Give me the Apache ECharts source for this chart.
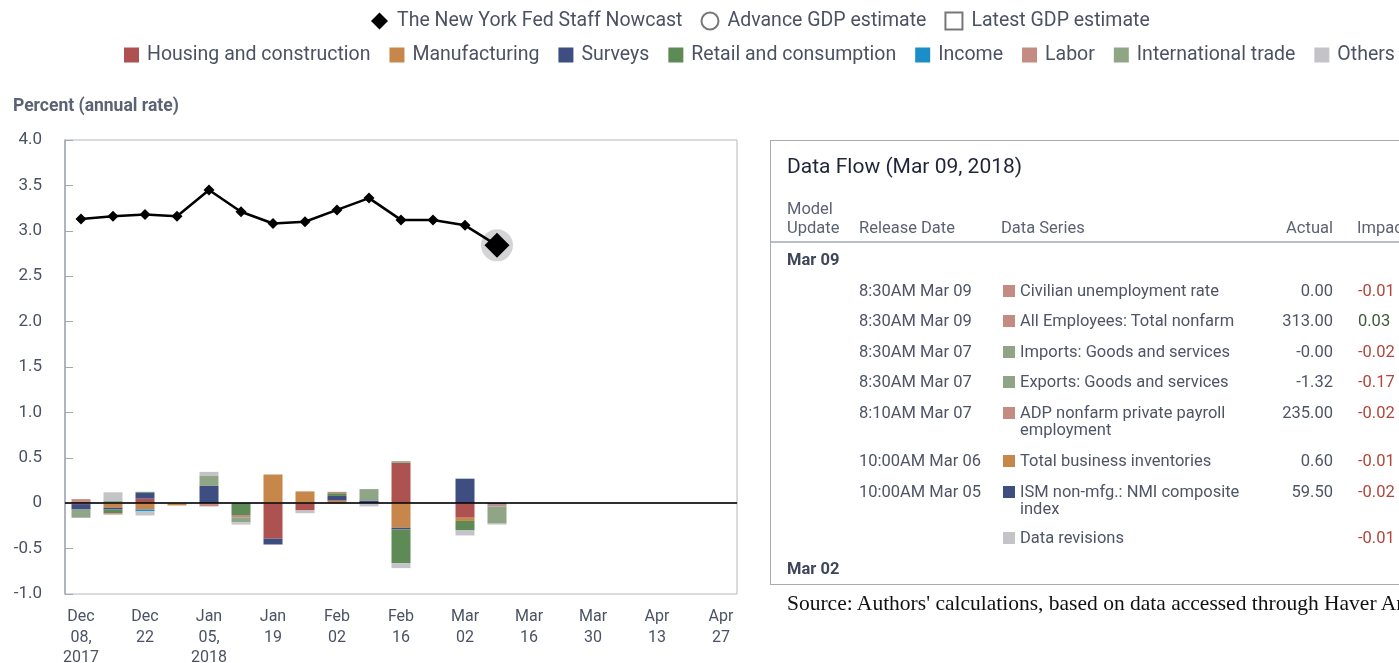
<!DOCTYPE html>
<html>
<head>
<meta charset="utf-8">
<title>Nowcast</title>
<script src="https://cdn.jsdelivr.net/npm/echarts@6/dist/echarts.min.js"></script>
<style>
  html, body { margin: 0; padding: 0; background: #fff; }
  body { width: 1399px; height: 663px; overflow: hidden; position: relative; font-family: Roboto, "Liberation Sans", sans-serif; }
  #chart { position: absolute; left: 0; top: 0; width: 1399px; height: 663px; }
  .tbl { position: absolute; left: 770px; top: 140px; width: 700px; height: 445px; border: 1px solid #a7abb2; box-sizing: border-box; color: #4d5566; font-size: 16.5px; }
  .tbl div { position: absolute; white-space: nowrap; line-height: 17px; }
  .tbl .title { left: 16px; top: 12px; font-size: 21px; line-height: 26px; color: #1d2638; }
  .tbl .hd { color: #5b6373; font-size: 16.5px; line-height: 19px; }
  .tbl .sep { left: 0; top: 100px; width: 100%; height: 0; border-top: 2px solid #b9bdc4; }
  .tbl .grp { left: 16px; font-weight: bold; color: #3e4658; font-size: 16.5px; }
  .tbl .rel { left: 88px; }
  .tbl .ser { left: 249px; }
  .tbl .sw { left: 232px; width: 12px; height: 12px; margin-top: 3px; }
  .tbl .act { left: 470px; width: 92px; text-align: right; }
  .tbl .imp { left: 587px; color: #b0473a; }
  .tbl .imp.pos { color: #3c5a3a; }
  .src { position: absolute; left: 787px; top: 591px; white-space: nowrap; font-family: "Liberation Serif", "DejaVu Serif", serif; font-size: 21.5px; color: #111; }
</style>
</head>
<body>
<div id="chart"></div>

<div class="tbl">
  <div class="title">Data Flow (Mar 09, 2018)</div>
  <div class="hd" style="left:16px; top:58px;">Model<br>Update</div>
  <div class="hd" style="left:88px; top:77px;">Release Date</div>
  <div class="hd" style="left:230px; top:77px;">Data Series</div>
  <div class="hd" style="left:470px; width:92px; text-align:right; top:77px;">Actual</div>
  <div class="hd" style="left:586px; top:77px;">Impact</div>
  <div class="sep"></div>
  <div class="grp" style="top:110px;">Mar 09</div>

  <div class="rel" style="top:141px;">8:30AM Mar 09</div>
  <div class="sw" style="top:141px; background:#c48b82;"></div>
  <div class="ser" style="top:141px;">Civilian unemployment rate</div>
  <div class="act" style="top:141px;">0.00</div>
  <div class="imp" style="top:141px;">-0.01</div>

  <div class="rel" style="top:171px;">8:30AM Mar 09</div>
  <div class="sw" style="top:171px; background:#c48b82;"></div>
  <div class="ser" style="top:171px;">All Employees: Total nonfarm</div>
  <div class="act" style="top:171px;">313.00</div>
  <div class="imp pos" style="top:171px;">0.03</div>

  <div class="rel" style="top:202px;">8:30AM Mar 07</div>
  <div class="sw" style="top:202px; background:#8fa586;"></div>
  <div class="ser" style="top:202px;">Imports: Goods and services</div>
  <div class="act" style="top:202px;">-0.00</div>
  <div class="imp" style="top:202px;">-0.02</div>

  <div class="rel" style="top:232px;">8:30AM Mar 07</div>
  <div class="sw" style="top:232px; background:#8fa586;"></div>
  <div class="ser" style="top:232px;">Exports: Goods and services</div>
  <div class="act" style="top:232px;">-1.32</div>
  <div class="imp" style="top:232px;">-0.17</div>

  <div class="rel" style="top:263px;">8:10AM Mar 07</div>
  <div class="sw" style="top:263px; background:#c48b82;"></div>
  <div class="ser" style="top:263px;">ADP nonfarm private payroll<br>employment</div>
  <div class="act" style="top:263px;">235.00</div>
  <div class="imp" style="top:263px;">-0.02</div>

  <div class="rel" style="top:311px;">10:00AM Mar 06</div>
  <div class="sw" style="top:311px; background:#c8874a;"></div>
  <div class="ser" style="top:311px;">Total business inventories</div>
  <div class="act" style="top:311px;">0.60</div>
  <div class="imp" style="top:311px;">-0.01</div>

  <div class="rel" style="top:342px;">10:00AM Mar 05</div>
  <div class="sw" style="top:342px; background:#3f4e80;"></div>
  <div class="ser" style="top:342px;">ISM non-mfg.: NMI composite<br>index</div>
  <div class="act" style="top:342px;">59.50</div>
  <div class="imp" style="top:342px;">-0.02</div>

  <div class="sw" style="top:388px; background:#c4c4c8;"></div>
  <div class="ser" style="top:388px;">Data revisions</div>
  <div class="imp" style="top:388px;">-0.01</div>

  <div class="grp" style="top:419px;">Mar 02</div>
</div>

<div class="src">Source: Authors' calculations, based on data accessed through Haver Analytics.</div>

<script>
// weekly nowcast dates
var weeks = ['Dec 08, 2017', 'Dec 15', 'Dec 22', 'Dec 29', 'Jan 05, 2018', 'Jan 12', 'Jan 19', 'Jan 26',
             'Feb 02', 'Feb 09', 'Feb 16', 'Feb 23', 'Mar 02', 'Mar 09', 'Mar 16', 'Mar 23', 'Mar 30',
             'Apr 06', 'Apr 13', 'Apr 20', 'Apr 27'];

// nowcast, percent annual rate
var nowcast = [3.13, 3.16, 3.18, 3.16, 3.45, 3.21, 3.08, 3.10, 3.23, 3.36, 3.12, 3.12, 3.06, 2.84];

// contributions (news impact) by category
var housing       = [0.02, 0, 0.05, 0, 0, 0, -0.39, -0.08, 0, 0, 0.445, 0, -0.16, 0];
var manufacturing = [-0.01, -0.05, -0.07, -0.025, 0, 0, 0.316, 0.13, 0.03, 0, -0.27, 0, -0.035, 0];
var surveys       = [-0.06, -0.02, 0.065, 0, 0.19, 0, -0.065, 0, 0.05, 0.03, -0.02, 0, 0.27, -0.015];
var retail        = [0, -0.04, 0.01, 0, 0, -0.13, 0, 0, 0.03, 0, -0.37, 0, -0.10, 0];
var income        = [0, 0, -0.02, 0, 0, 0, 0, 0, 0, 0, 0, 0, 0, 0];
var labor         = [0.025, -0.015, 0, 0, -0.035, -0.025, 0, 0, 0.015, 0, 0, 0, 0, -0.02];
var trade         = [-0.09, 0.025, 0, 0, 0.11, -0.055, 0, 0, 0, 0.125, 0.018, 0, 0, -0.19];
var others        = [0, 0.095, -0.045, 0, 0.045, -0.025, 0, -0.03, 0, -0.035, -0.055, 0, -0.06, -0.01];

var groups = [
    ['Housing and construction', housing, '#ad5250'],
    ['Manufacturing', manufacturing, '#c8874a'],
    ['Surveys', surveys, '#3f4e80'],
    ['Retail and consumption', retail, '#5e8a55'],
    ['Income', income, '#1b8dc7'],
    ['Labor', labor, '#c48b82'],
    ['International trade', trade, '#8fa586'],
    ['Others', others, '#c4c4c8']
];

var txt = '#4b5263';
var last = nowcast.length - 1;

var chart = echarts.init(document.getElementById('chart'));

var series = groups.map(function (g) {
    return {
        name: g[0],
        type: 'bar',
        stack: 'news',
        barWidth: 19,
        itemStyle: { color: g[2] },
        data: g[1]
    };
});

series.push({
    name: 'halo',
    type: 'scatter',
    symbol: 'circle',
    symbolSize: 32,
    itemStyle: { color: 'rgba(165,165,170,0.6)' },
    silent: true,
    data: nowcast.map(function (v, i) { return i === last ? v : '-'; })
});

series.push({
    name: 'The New York Fed Staff Nowcast',
    type: 'line',
    symbol: 'diamond',
    symbolSize: 11,
    showAllSymbol: true,
    lineStyle: { color: '#000', width: 2.5 },
    itemStyle: { color: '#000' },
    data: nowcast.map(function (v, i) { return i === last ? { value: v, symbolSize: 25 } : v; }),
    markLine: {
        silent: true,
        symbol: 'none',
        label: { show: false },
        lineStyle: { color: '#000', width: 1.5, type: 'solid' },
        data: [{ yAxis: 0 }]
    }
});

series.push({ name: 'Advance GDP estimate', type: 'scatter', data: [] });
series.push({ name: 'Latest GDP estimate', type: 'scatter', data: [] });

var option = {
    animation: false,
    textStyle: { fontFamily: 'Roboto' },
    title: {
        text: 'Percent (annual rate)',
        left: 8, top: 93,
        textStyle: { fontSize: 17.5, fontWeight: 'bold', color: '#5b6373' }
    },
    legend: [
        {
            left: 366, top: 6, width: 1000,
            itemWidth: 17, itemHeight: 17, itemGap: 18,
            textStyle: { fontSize: 19.5, color: txt, padding: [0, 0, 0, 4] },
            data: [
                { name: 'The New York Fed Staff Nowcast', icon: 'diamond', itemStyle: { color: '#000' } },
                { name: 'Advance GDP estimate', icon: 'circle', itemStyle: { color: '#fff', borderColor: '#555', borderWidth: 2 } },
                { name: 'Latest GDP estimate', icon: 'rect', itemStyle: { color: '#fff', borderColor: '#555', borderWidth: 2 } }
            ]
        },
        {
            left: 119, top: 40, width: 1500,
            itemWidth: 15, itemHeight: 15, itemGap: 19,
            textStyle: { fontSize: 19.5, color: txt, padding: [0, 0, 0, 3] },
            data: groups.map(function (g) { return { name: g[0], icon: 'rect' }; })
        }
    ],
    grid: {
        left: 65, right: 662, top: 140, bottom: 69,
        outerBoundsMode: 'none',
        show: true, borderColor: '#b3b8bf', borderWidth: 1
    },
    xAxis: {
        type: 'category',
        data: weeks,
        boundaryGap: true,
        axisLine: { lineStyle: { color: '#a3a9b2', width: 1.5 } },
        axisTick: { alignWithLabel: true, interval: 1, length: 6, lineStyle: { color: '#a3a9b2' } },
        axisLabel: {
            interval: 1, margin: 13, color: txt, fontSize: 16, lineHeight: 20.5,
            formatter: function (v) { return v.split(' ').join('\n'); }
        }
    },
    yAxis: {
        type: 'value',
        min: -1, max: 4, interval: 0.5,
        splitLine: { show: false },
        axisLine: { show: true, lineStyle: { color: '#a3a9b2', width: 1.5 } },
        axisTick: { show: true, inside: true, length: 8, lineStyle: { color: '#a3a9b2' } },
        axisLabel: {
            margin: 23, color: txt, fontSize: 17,
            formatter: function (v) { return v === 0 ? '0' : v.toFixed(1); }
        }
    },
    series: series
};

chart.setOption(option);
</script>
</body>
</html>
